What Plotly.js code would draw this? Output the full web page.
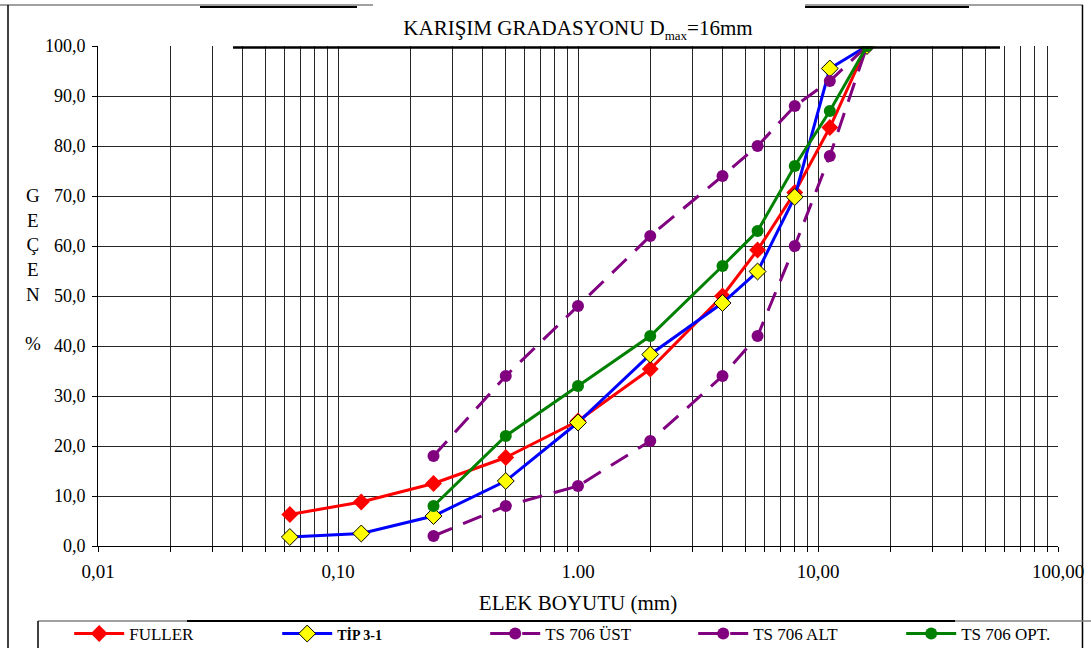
<!DOCTYPE html>
<html>
<head>
<meta charset="utf-8">
<script src="https://cdn.plot.ly/plotly-3.0.1.min.js"></script>
<style>html,body{margin:0;padding:0;background:#fff;}#chart{width:1091px;height:648px;}</style>
</head>
<body>
<div id="chart"></div>
<script>
// Sieve sizes (mm)
var sieves = [0.063, 0.125, 0.25, 0.5, 1, 2, 4, 5.6, 8, 11.2, 16];
var sievesTS = [0.25, 0.5, 1, 2, 4, 5.6, 8, 11.2, 16];
// Passing percentages
var fuller = [6.3, 8.8, 12.5, 17.7, 25.0, 35.4, 50.0, 59.2, 70.7, 83.7, 100];
var tip31  = [1.8, 2.5, 6.0, 13.0, 24.7, 38.3, 48.6, 54.9, 69.8, 95.5, 100];
var tsUst  = [18, 34, 48, 62, 74, 80, 88, 93, 100];
var tsAlt  = [2, 8, 12, 21, 34, 42, 60, 78, 100];
var tsOpt  = [8, 22, 32, 42, 56, 63, 76, 87, 100];
// Axis tick labels
var xTickVals = [0.01, 0.1, 1, 10, 100];
var xTickText = ['0,01', '0,10', '1.00', '10,00', '100,00'];
var seriesNames = ['FULLER', '<b><span style="font-size:14px">TİP 3-1</span></b>', 'TS 706 ÜST', 'TS 706 ALT', 'TS 706 OPT.'];

var minorVals = [];
[0.01, 0.1, 1, 10].forEach(function (d) { for (var k = 2; k <= 9; k++) minorVals.push(+(d * k).toPrecision(3)); });

var FONT = '"Liberation Serif", "Times New Roman", serif';
var GRID = '#262626';

var traces = [
  {x: sieves, y: fuller, name: seriesNames[0], mode: 'lines+markers',
   line: {color: '#ff0000', width: 3}, marker: {symbol: 'diamond', size: 13, color: '#ff0000'}},
  {x: sieves, y: tip31, name: seriesNames[1], mode: 'lines+markers',
   line: {color: '#0000ff', width: 3}, marker: {symbol: 'diamond', size: 13, color: '#ffff00', line: {color: '#000', width: 1}}},
  {x: sievesTS, y: tsUst, name: seriesNames[2], mode: 'lines+markers',
   line: {color: '#800080', width: 3, dash: '20px,12px'}, marker: {symbol: 'circle', size: 12, color: '#800080'}},
  {x: sievesTS, y: tsAlt, name: seriesNames[3], mode: 'lines+markers',
   line: {color: '#800080', width: 3, dash: '20px,12px'}, marker: {symbol: 'circle', size: 12, color: '#800080'}},
  {x: sievesTS, y: tsOpt, name: seriesNames[4], mode: 'lines+markers',
   line: {color: '#008000', width: 3}, marker: {symbol: 'circle', size: 12, color: '#008000'}}
];

function pline(x0, y0, x1, y1, color, w) {
  return {type: 'line', xref: 'paper', yref: 'paper', x0: x0, y0: y0, x1: x1, y1: y1, line: {color: color, width: w}, layer: 'above'};
}

var layout = {
  width: 1091, height: 648,
  margin: {l: 98, r: 33, t: 46, b: 102, autoexpand: false},
  paper_bgcolor: '#fff', plot_bgcolor: '#fff',
  separators: ',.',
  font: {family: FONT, color: '#000', size: 17},
  title: {text: 'KARIŞIM GRADASYONU D<sub><span style="font-size:13px">max</span></sub>=16mm', font: {family: FONT, size: 21, color: '#000'},
          x: 0.5, xanchor: 'center', xref: 'paper', y: 0.957, yref: 'container', yanchor: 'middle'},
  showlegend: true,
  legend: {orientation: 'h', x: -0.03, xanchor: 'left', y: -0.176, yanchor: 'middle',
           entrywidth: 143, entrywidthmode: 'pixels', itemwidth: 50,
           font: {family: FONT, size: 17, color: '#000'}, bgcolor: 'rgba(0,0,0,0)', borderwidth: 0},
  xaxis: {type: 'log', range: [-2, 2], tickmode: 'array', tickvals: xTickVals, ticktext: xTickText,
          showgrid: true, gridcolor: GRID, gridwidth: 1, zeroline: false,
          showline: true, linecolor: '#000', linewidth: 1, mirror: false,
          ticks: 'outside', ticklen: 5, tickcolor: '#000', tickfont: {family: FONT, size: 19},
          ticklabelstandoff: 3,
          minor: {tickmode: 'array', tickvals: minorVals, showgrid: true, gridcolor: GRID, gridwidth: 1,
                  ticks: 'outside', ticklen: 5, tickcolor: '#000'},
          title: {text: 'ELEK BOYUTU (mm)', font: {family: FONT, size: 21}, standoff: 14}},
  yaxis: {range: [0, 100], tickmode: 'linear', tick0: 0, dtick: 10, tickformat: '.1f',
          showgrid: true, gridcolor: GRID, gridwidth: 1, zeroline: false,
          showline: true, linecolor: '#000', linewidth: 1,
          ticks: 'outside', ticklen: 5, tickcolor: '#000', tickfont: {family: FONT, size: 18},
          ticklabelstandoff: 3},
  annotations: [
    {xref: 'paper', yref: 'paper', x: -0.068, y: 0.554, xanchor: 'center', yanchor: 'middle', showarrow: false,
     text: 'G<br>E<br>Ç<br>E<br>N<br> <br>%', font: {family: FONT, size: 19, color: '#000'}, align: 'center'}
  ],
  shapes: [
    // outer frame remnants
    pline(-0.1021, 1.082, 0.2865, 1.082, '#808080', 1.5),
    pline(0.10625, 1.078, 0.2698, 1.078, '#000', 2),
    pline(0.7365, 1.082, 1.026, 1.082, '#808080', 1.5),
    pline(0.7365, 1.078, 0.9073, 1.078, '#000', 2),
    pline(-0.09375, 1.082, -0.09375, -0.21, '#000', 1.5),
    pline(1.0255, 1.082, 1.0255, -0.21, '#000', 1.5),
    // thick line along the top of the plot
    pline(0.1406, 0.997, 0.9396, 0.997, '#000', 2.5),
    // legend box
    pline(-0.0625, -0.15, 1.04, -0.15, '#808080', 1.5),
    pline(0.0927, -0.15, 0.8927, -0.15, '#000', 2),
    pline(-0.0625, -0.15, -0.0625, -0.21, '#000', 1.5)
  ]
};

Plotly.newPlot('chart', traces, layout, {displayModeBar: false, staticPlot: true});
</script>
</body>
</html>
